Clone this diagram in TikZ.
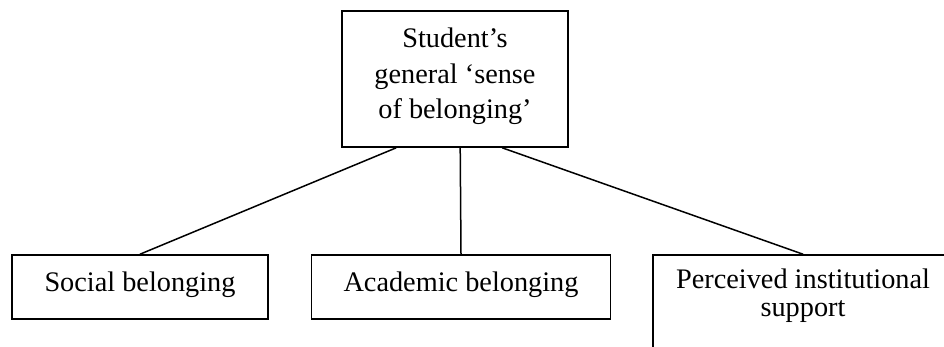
\documentclass[tikz,border=0pt]{standalone}
\usepackage{fontspec}
\setmainfont{Liberation Serif}
\usetikzlibrary{calc}
\begin{document}
\begin{tikzpicture}[x=1pt,y=-1pt,
  box/.style={draw=black,line width=1.6pt,rectangle,inner sep=0pt},
  lbl/.style={inner sep=0pt,anchor=base,font=\fontsize{28.3}{35}\selectfont},
  link/.style={draw=black,line width=1.5pt}]
\useasboundingbox (0,0) rectangle (944,346);
\fill[white] (0,0) rectangle (944,346);
\node[box,minimum width=226pt,minimum height=136pt] (top) at (455,79) {};
\node[box,minimum width=256pt,minimum height=64pt] (soc) at (140,287) {};
\node[box,minimum width=299pt,minimum height=64pt] (aca) at (461,287) {};
\node[box,minimum width=300pt,minimum height=100pt] (per) at (803,305) {};
\node[lbl] (t1) at (455,47) {Student’s};
\node[lbl] (t2) at (455,83) {general ‘sense};
\node[lbl] (t3) at (455,118) {of belonging’};
\node[lbl] (s1) at (140,291.5) {Social belonging};
\node[lbl] (a1) at (461,291.5) {Academic belonging};
\node[lbl] (p1) at (803,288) {Perceived institutional};
\node[lbl] (p2) at (803,316.5) {support};
\coordinate (o1) at ($(top.south west)+(55,0)$);
\coordinate (o2) at ($(top.south west)+(119,0)$);
\coordinate (o3) at ($(top.south west)+(161,0)$);
\draw[link] (o1) -- (soc.north);
\draw[link] (o2) -- (aca.north);
\draw[link] (o3) -- (per.north);
\end{tikzpicture}
\end{document}
